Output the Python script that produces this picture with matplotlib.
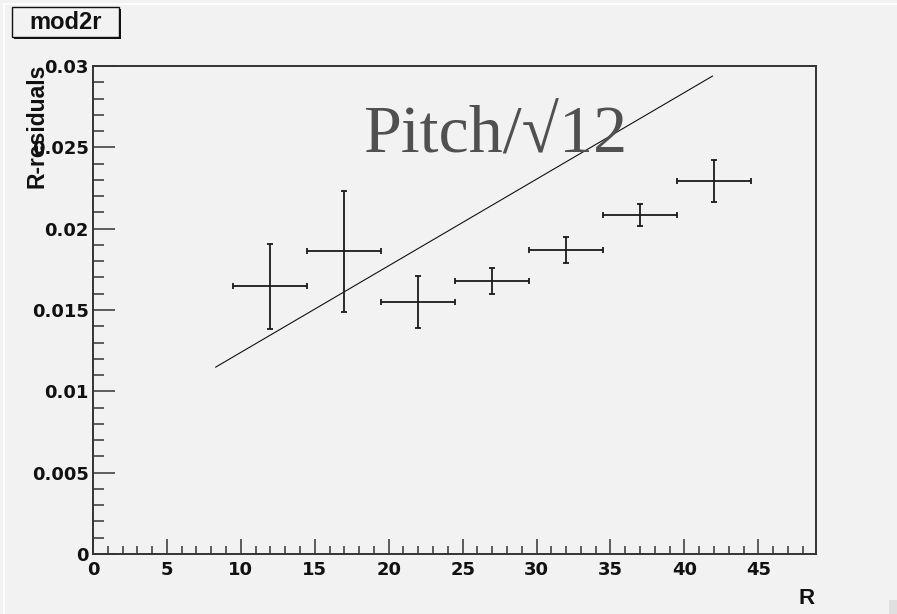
import matplotlib
matplotlib.use("Agg")
import matplotlib.pyplot as plt
from matplotlib.patches import Rectangle
from matplotlib.lines import Line2D
from matplotlib.ticker import MultipleLocator, FixedLocator, FixedFormatter

# Residual width per radial bin
r_centers = [12, 17, 22, 27, 32, 37, 42]
r_halfwidth = [2.5, 2.5, 2.5, 2.5, 2.5, 2.5, 2.5]
residuals = [0.01645, 0.01860, 0.01548, 0.01676, 0.01868, 0.02082, 0.02291]
residual_err = [0.00260, 0.00370, 0.00160, 0.00080, 0.00080, 0.00068, 0.00130]

# Pitch/sqrt(12) reference line
pitch_r = [8.3, 41.9]
pitch_res = [0.01149, 0.02938]

y_ticks = [0.0, 0.005, 0.01, 0.015, 0.02, 0.025, 0.03]
y_ticklabels = ["0", "0.005", "0.01", "0.015", "0.02", "0.025", "0.03"]
x_ticks = [0, 5, 10, 15, 20, 25, 30, 35, 40, 45]
x_ticklabels = ["0", "5", "10", "15", "20", "25", "30", "35", "40", "45"]

BG = "#f2f2f2"
W, H = 897, 614

fig = plt.figure(figsize=(W / 100, H / 100), dpi=100, facecolor=BG)


def fx(px):
    return px / W


def fy(py):
    return 1 - py / H


ax = fig.add_axes([fx(93), fy(554), fx(816) - fx(93), fy(66) - fy(554)])
ax.set_facecolor(BG)
ax.set_xlim(0, 48.9)
ax.set_ylim(0, 0.03)

for side in ["left", "bottom", "right", "top"]:
    ax.spines[side].set_linewidth(1.4)
    ax.spines[side].set_color("#333333")

ax.errorbar(r_centers, residuals, xerr=r_halfwidth, yerr=residual_err,
            fmt="none", ecolor="#1a1a1a", elinewidth=1.3, capsize=2.4,
            capthick=1.3, zorder=3)
ax.plot(pitch_r, pitch_res, color="#111111", lw=0.8, zorder=2)

ax.text(18.27, 0.02469, "Pitch/\u221a12", fontsize=49, color="#505050",
        family=["Liberation Serif", "DejaVu Serif"], va="baseline", ha="left",
        zorder=4)

# Axes ticks
ax.yaxis.set_major_locator(FixedLocator(y_ticks))
ax.yaxis.set_major_formatter(FixedFormatter(y_ticklabels))
ax.yaxis.set_minor_locator(MultipleLocator(0.001))
ax.xaxis.set_major_locator(FixedLocator(x_ticks))
ax.xaxis.set_major_formatter(FixedFormatter(x_ticklabels))
ax.xaxis.set_minor_locator(MultipleLocator(1))

ax.tick_params(axis="y", which="major", direction="in", length=16, width=1.1,
               pad=3, color="#333333")
ax.tick_params(axis="y", which="minor", direction="in", length=8, width=1.1,
               color="#333333")
ax.tick_params(axis="x", which="major", direction="in", length=11, width=1.1,
               pad=5, color="#333333")
ax.tick_params(axis="x", which="minor", direction="in", length=6, width=1.1,
               color="#333333")
for lab in ax.get_xticklabels() + ax.get_yticklabels():
    lab.set_fontfamily("DejaVu Sans")
    lab.set_fontweight("bold")
    lab.set_fontsize(13)
    lab.set_color("#111111")

# Axis titles
fig.text(fx(37), fy(64), "R-residuals", rotation=90, ha="center", va="top",
         fontsize=16.5, fontweight="bold", family="Liberation Sans",
         color="#111111")
fig.text(fx(815), fy(598), "R", ha="right", va="center", fontsize=16,
         fontweight="bold", family="Liberation Sans", color="#111111")

# Title box with shadow
fig.patches.append(Rectangle((fx(14), fy(39)), fx(107), fy(0) - fy(30),
                             transform=fig.transFigure, facecolor="#111111",
                             edgecolor="none", zorder=1))
fig.patches.append(Rectangle((fx(12), fy(37)), fx(107), fy(0) - fy(30),
                             transform=fig.transFigure, facecolor=BG,
                             edgecolor="#111111", lw=1.0, zorder=2))
fig.text(fx(65.5), fy(22.5), "mod2r", ha="center", va="center", fontsize=17,
         fontweight="bold", family="Liberation Sans", color="#111111",
         zorder=3)

# Window edge highlights
fig.add_artist(Line2D([fx(4), fx(4)], [0, fy(4)], transform=fig.transFigure,
                      color="#fdfdfd", lw=1.5))
fig.add_artist(Line2D([fx(4), 1], [fy(4), fy(4)], transform=fig.transFigure,
                      color="#fdfdfd", lw=1.5))
fig.patches.append(Rectangle((fx(889), 0), fx(8), fy(600),
                             transform=fig.transFigure, facecolor="#e0e0e0",
                             edgecolor="none"))

fig.savefig("out.png", dpi=100, facecolor=BG)
